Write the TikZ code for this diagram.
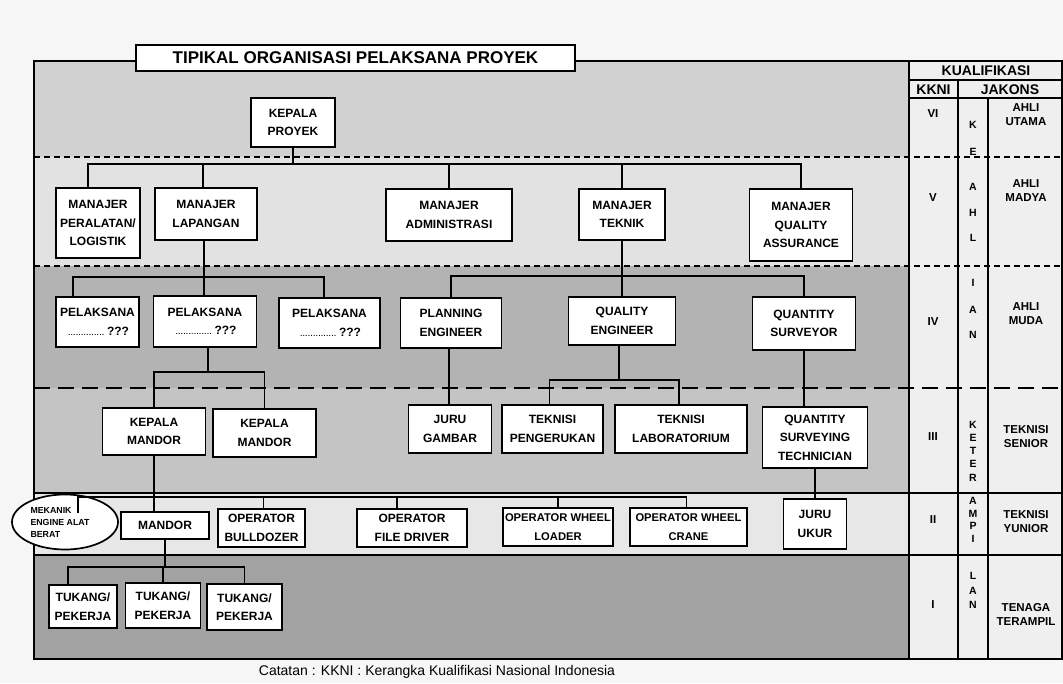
\documentclass[tikz,border=0pt]{standalone}
\usepackage{fontspec}
\setmainfont{Liberation Sans}
\usetikzlibrary{shapes.geometric}
\definecolor{pagebg}{HTML}{F6F6F6}
\definecolor{rowVI}{HTML}{D1D1D1}
\definecolor{rowV}{HTML}{E2E2E2}
\definecolor{rowIV}{HTML}{B3B3B3}
\definecolor{rowIII}{HTML}{C4C4C4}
\definecolor{rowII}{HTML}{E7E7E7}
\definecolor{rowI}{HTML}{A2A2A2}
\definecolor{panel}{HTML}{EFEFEF}
\newcommand\dotsline{\leavevmode\leaders\hbox to 2.6pt{\hss\fontsize{7}{7}\selectfont.\hss}\hskip 39pt\relax}
\tikzset{
  box/.style={draw=black, line width=1.6pt, fill=white, align=center, inner sep=1pt,
    font=\bfseries\fontsize{12}{18.5}\selectfont},
  narrowtext/.style={font=\bfseries\fontsize{11.2}{18.5}\selectfont},
  sz/.style 2 args={minimum width=#1pt, minimum height=#2pt},
  conn/.style={line width=1.3pt},
  sepdash/.style={line width=1.7pt, dash pattern=on 6pt off 4pt},
  seplong/.style={line width=1.7pt, dash pattern=on 16pt off 8pt},
  sepsolid/.style={line width=1.7pt},
  hdr/.style={font=\bfseries\fontsize{14}{15}\selectfont, inner sep=0pt},
  lvl/.style={font=\bfseries\fontsize{11.5}{14}\selectfont, align=center, inner sep=0pt},
  ltr/.style={font=\bfseries\fontsize{10.5}{11}\selectfont, inner sep=0pt},
}
\begin{document}
\begin{tikzpicture}[x=1pt, y=-1pt]
\useasboundingbox (0,0) rectangle (1063,683);
\fill[pagebg] (0,0) rectangle (1063,683);
% row backgrounds
\fill[rowVI]  (34,61)  rectangle (909,157);
\fill[rowV]   (34,157) rectangle (909,266);
\fill[rowIV]  (34,266) rectangle (909,388);
\fill[rowIII] (34,388) rectangle (909,493);
\fill[rowII]  (34,493) rectangle (909,555);
\fill[rowI]   (34,555) rectangle (909,659);
\fill[panel]  (909,61) rectangle (1062,659);
% separators
\draw[sepdash]  (34,157) -- (1062,157);
\draw[sepdash]  (34,266) -- (1062,266);
\draw[seplong]  (34,388) -- (1062,388);
\draw[sepsolid] (34,493) -- (1062,493);
\draw[sepsolid] (34,555) -- (1062,555);
% frame and qualification table
\draw[line width=1.9pt] (34,61) rectangle (1062,659);
\draw[line width=1.7pt] (909,61) -- (909,659);
\draw[line width=1.5pt] (909,80) -- (1062,80);
\draw[line width=1.5pt] (909,98) -- (1062,98);
\draw[line width=1.5pt] (958,80) -- (958,659);
\draw[line width=1.5pt] (988,98) -- (988,659);
% title
\node[draw, line width=1.7pt, fill=white, sz={439}{26}, inner sep=0pt,
  font=\bfseries\fontsize{17}{18}\selectfont] (title) at (355.5,58)
  {TIPIKAL ORGANISASI PELAKSANA PROYEK};
% table texts
\node[hdr] (kual) at (986,71) {KUALIFIKASI};
\node[hdr] (kkni) at (933.5,89.5) {KKNI};
\node[hdr] (jak)  at (1010,89.5) {JAKONS};
\node[lvl] (kVI)  at (933,114) {VI};
\node[lvl] (kV)   at (933,198) {V};
\node[lvl] (kIV)  at (933,322) {IV};
\node[lvl] (kIII) at (933,437) {III};
\node[lvl] (kII)  at (933,520) {II};
\node[lvl] (kI)   at (933,605) {I};
\node[lvl] (jVI)  at (1026,115) {AHLI\\UTAMA};
\node[lvl] (jV)   at (1026,191) {AHLI\\MADYA};
\node[lvl] (jIV)  at (1026,314) {AHLI\\MUDA};
\node[lvl] (jIII) at (1026,437) {TEKNISI\\SENIOR};
\node[lvl] (jII)  at (1026,522) {TEKNISI\\YUNIOR};
\node[lvl] (jI)   at (1026,614) {TENAGA\\TERAMPIL};
\foreach \l/\yy [count=\i] in {K/125,E/152,A/187,H/213,L/238,I/283,A/310,N/335,
  K/425,E/438,T/451,E/464,R/478,A/501,M/514,P/526,I/539,L/576,A/591,N/605}
  \node[ltr] (ltr\i) at (973,\yy) {\l};
% nodes
\node[box, sz={84}{49}]  (kp)   at (293,122.5) {KEPALA\\PROYEK};
\node[box, sz={84}{70}]  (mpl)  at (98,223)    {MANAJER\\PERALATAN/\\LOGISTIK};
\node[box, sz={102}{52}] (mlap) at (206,214)   {MANAJER\\LAPANGAN};
\node[box, sz={126}{52}] (madm) at (449,215)   {MANAJER\\ADMINISTRASI};
\node[box, sz={86}{51}]  (mtek) at (622,214.5) {MANAJER\\TEKNIK};
\node[box, sz={103}{72}] (mqa)  at (801,225)   {MANAJER\\QUALITY\\ASSURANCE};
\node[box, sz={83}{50}]  (pel1) at (97.5,322)  {PELAKSANA\\\dotsline\,???};
\node[box, sz={103}{51}] (pel2) at (205,321.5) {PELAKSANA\\\dotsline\,???};
\node[box, sz={101}{50}] (pel3) at (329.5,323) {PELAKSANA\\\dotsline\,???};
\node[box, sz={101}{50}] (plan) at (451,323)   {PLANNING\\ENGINEER};
\node[box, sz={107}{48}] (qe)   at (622,321)   {QUALITY\\ENGINEER};
\node[box, sz={103}{53}] (qs)   at (804,323.5) {QUANTITY\\SURVEYOR};
\node[box, sz={103}{47}] (km1)  at (154,431.5) {KEPALA\\MANDOR};
\node[box, sz={103}{48}] (km2)  at (264.5,433) {KEPALA\\MANDOR};
\node[box, sz={83}{48}]  (jg)   at (450,429)   {JURU\\GAMBAR};
\node[box, sz={101}{48}] (tp)   at (552.5,429) {TEKNISI\\PENGERUKAN};
\node[box, sz={132}{48}] (tl)   at (681,429)   {TEKNISI\\LABORATORIUM};
\node[box, sz={105}{61}] (qst)  at (815,437.5) {QUANTITY\\SURVEYING\\TECHNICIAN};
\node[draw, ellipse, line width=1.7pt, fill=white, sz={106}{55}, inner sep=0pt,
  align=left, font=\bfseries\fontsize{8.8}{12}\selectfont] (mek) at (65,522)
  {MEKANIK\\ENGINE ALAT\hspace*{10pt}\mbox{}\\BERAT};
\node[box, sz={88}{27}]  (man)  at (165,525.5) {MANDOR};
\node[box, sz={87}{38}]  (ob)   at (261.5,528) {OPERATOR\\BULLDOZER};
\node[box, sz={110}{38}] (ofd)  at (412,528)   {OPERATOR\\FILE DRIVER};
\node[box, narrowtext, sz={110}{38}] (owl)  at (558,527)   {OPERATOR WHEEL\\LOADER};
\node[box, narrowtext, sz={117}{38}] (owc)  at (688.5,527) {OPERATOR WHEEL\\CRANE};
\node[box, sz={63}{50}]  (ju)   at (815,524)   {JURU\\UKUR};
\node[box, sz={68}{43}]  (tk1)  at (83,606.5)  {TUKANG/\\PEKERJA};
\node[box, sz={75}{45}]  (tk2)  at (163,605.5) {TUKANG/\\PEKERJA};
\node[box, sz={75}{46}]  (tk3)  at (244.5,607) {TUKANG/\\PEKERJA};
% bus levels
\coordinate (bV)    at (0,164);
\coordinate (bIVl)  at (0,277);
\coordinate (bIVr)  at (0,276);
\coordinate (bIIIl) at (0,372);
\coordinate (bIIIr) at (0,380);
\coordinate (bII)   at (0,497);
\coordinate (bI)    at (0,567);
\coordinate (mekstem) at (78,513);
% connectors
\draw[conn] (kp.south) -- (kp.south |- bV);
\draw[conn] ([xshift=-10pt]mpl.north) |- (mqa.north |- bV) -- (mqa.north);
\draw[conn] ([xshift=-3pt]mlap.north) -- ([xshift=-3pt]mlap.north |- bV);
\draw[conn] (madm.north) -- (madm.north |- bV);
\draw[conn] (mtek.north) -- (mtek.north |- bV);
\draw[conn] ([xshift=-2pt]mlap.south) -- ([xshift=-2pt]mlap.south |- pel2.north);
\draw[conn] ([xshift=-24.5pt]pel1.north) |- ([xshift=-5.5pt]pel3.north |- bIVl) -- ([xshift=-5.5pt]pel3.north);
\draw[conn] (plan.north) |- (qs.north |- bIVr) -- (qs.north);
\draw[conn] (mtek.south) -- (mtek.south |- qe.north);
\draw[conn] ([xshift=3pt]pel2.south) -- ([xshift=3pt]pel2.south |- bIIIl);
\draw[conn] (km1.north) |- (km2.north |- bIIIl) -- (km2.north);
\draw[conn] ([xshift=-2pt]plan.south) -- ([xshift=-2pt]plan.south |- jg.north);
\draw[conn] ([xshift=-3pt]qe.south) -- ([xshift=-3pt]qe.south |- bIIIr);
\draw[conn] ([xshift=-3pt]tp.north) |- ([xshift=-2pt]tl.north |- bIIIr) -- ([xshift=-2pt]tl.north);
\draw[conn] (qs.south) -- (qs.south |- qst.north);
\draw[conn] (km1.south) -- (km1.south |- man.north);
\draw[conn] (mekstem) |- ([xshift=-2pt]owc.north |- bII) -- ([xshift=-2pt]owc.north);
\draw[conn] ([xshift=2pt]ob.north) -- ([xshift=2pt]ob.north |- bII);
\draw[conn] ([xshift=-15pt]ofd.north) -- ([xshift=-15pt]ofd.north |- bII);
\draw[conn] (owl.north) -- (owl.north |- bII);
\draw[conn] (qst.south) -- (qst.south |- ju.north);
\draw[conn] (man.south) -- (man.south |- bI);
\draw[conn] ([xshift=-15pt]tk1.north) |- (tk3.north |- bI) -- (tk3.north);
\draw[conn] (tk2.north) -- (tk2.north |- bI);
% caption
\node[font=\fontsize{14}{16}\selectfont, inner sep=0pt] (cap) at (437,672)
  {Catatan : KKNI : Kerangka Kualifikasi Nasional Indonesia};
\end{tikzpicture}
\end{document}
